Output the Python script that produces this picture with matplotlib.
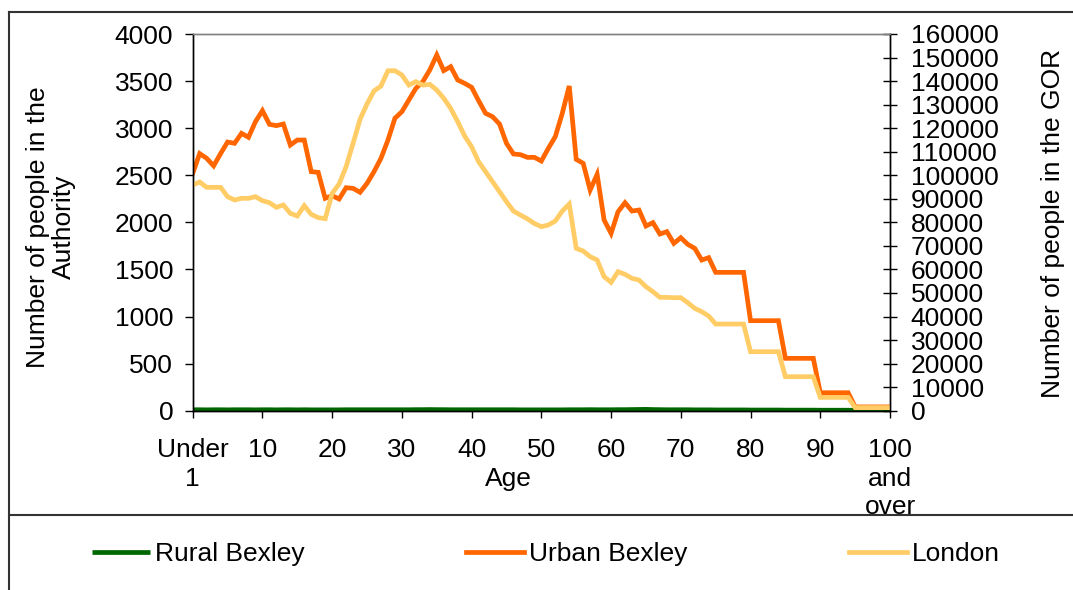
import numpy as np
import matplotlib
matplotlib.use("Agg")
import matplotlib.pyplot as plt
from matplotlib.lines import Line2D

plt.rcParams['font.family'] = ['Liberation Sans', 'DejaVu Sans']

# Population by single year of age (Under 1 ... 100 and over)
ages = list(range(101))

rural_bexley = [10, 10, 9, 10, 10, 9, 10, 10, 10, 9,
                10, 10, 9, 10, 10, 9, 10, 9, 9, 9,
                9, 9, 10, 10, 10, 10, 10, 10, 10, 10,
                10, 10, 11, 11, 12, 11, 11, 10, 10, 10,
                10, 10, 10, 10, 10, 10, 10, 9, 9, 9,
                9, 9, 9, 9, 10, 10, 10, 11, 10, 10,
                10, 11, 11, 12, 13, 14, 12, 11, 10, 10,
                10, 10, 9, 9, 9, 8, 8, 8, 8, 8,
                7, 7, 7, 7, 7, 6, 6, 6, 6, 6,
                5, 5, 5, 5, 5, 4, 4, 4, 4, 4, 4]

urban_bexley = [2520, 2730, 2680, 2600, 2730, 2853, 2839, 2945, 2903, 3069,
                3186, 3041, 3027, 3044, 2821, 2874, 2874, 2538, 2531, 2255,
                2283, 2248, 2368, 2361, 2319, 2414, 2538, 2680, 2874, 3105,
                3175, 3299, 3423, 3494, 3618, 3777, 3611, 3653, 3512, 3476,
                3434, 3292, 3158, 3122, 3044, 2839, 2726, 2719, 2690, 2690,
                2651, 2786, 2910, 3158, 3448, 2669, 2627, 2343, 2510, 2025,
                1883, 2113, 2209, 2120, 2131, 1961, 1997, 1876, 1901, 1777,
                1837, 1766, 1724, 1600, 1625, 1469, 1469, 1469, 1469, 1469,
                956, 956, 956, 956, 956, 556, 556, 556, 556, 556,
                191, 191, 191, 191, 191, 40, 40, 40, 40, 40, 40]

london = [95860, 97140, 94870, 94870, 94870, 90900, 89490, 90200, 90200, 90900,
          89200, 88360, 86380, 87370, 83830, 82700, 87080, 83400, 82000, 81560,
          92300, 96300, 103650, 113560, 123760, 130270, 135800, 137900, 144400, 144400,
          142600, 138300, 139760, 138300, 138600, 136200, 132700, 128400, 122770, 116680,
          112100, 105780, 101500, 97280, 93030, 88780, 84800, 83100, 81500, 79500,
          78160, 78870, 80570, 84800, 87790, 68960, 67830, 65420, 64000, 56920,
          54520, 59050, 57910, 56220, 55500, 52680, 50550, 48140, 48140, 48000,
          48000, 45880, 43470, 42050, 40210, 36800, 36800, 36800, 36800, 36800,
          25060, 25060, 25060, 25060, 25060, 14440, 14440, 14440, 14440, 14440,
          5660, 5660, 5660, 5660, 5660, 1300, 1300, 1300, 1300, 1300, 1300]

x_ticks = [0, 10, 20, 30, 40, 50, 60, 70, 80, 90, 100]
x_labels = ['Under\n1', '10', '20', '30', '40', '50', '60', '70', '80', '90',
            '100\nand\nover']

W, H = 1073, 590
fig = plt.figure(figsize=(W / 100, H / 100), dpi=100)

L, R, T, B = 192.7, 890.0, 34.0, 410.7
ax = fig.add_axes([L / W, 1 - B / H, (R - L) / W, (B - T) / H])
ax2 = ax.twinx()

fs = 19

l_rural, = ax.plot(ages, rural_bexley, color='#006600', lw=3.4,
                   solid_capstyle='butt', label='Rural Bexley')
l_urban, = ax.plot(ages, urban_bexley, color='#FF6600', lw=3.4,
                   solid_joinstyle='miter', label='Urban Bexley')
l_london, = ax2.plot(ages, london, color='#FFCC66', lw=3.4,
                     solid_joinstyle='miter', label='London')

ax.set_xlim(0, 100)
ax.set_ylim(0, 4000)
ax2.set_ylim(0, 160000)
ax.set_yticks(np.arange(0, 4001, 500))
ax2.set_yticks(np.arange(0, 160001, 10000))
ax.set_xticks(x_ticks)
ax.set_xticklabels(x_labels, fontsize=fs, linespacing=1.22)

ax.tick_params(axis='y', direction='out', length=6, width=1, labelsize=fs, pad=8)
ax.tick_params(axis='x', direction='out', length=5, width=1, labelsize=fs, pad=15)
ax2.tick_params(axis='y', direction='inout', length=10, width=1, labelsize=fs, pad=10)

for a in (ax, ax2):
    for s in ('left', 'bottom', 'right'):
        a.spines[s].set_color('black')
        a.spines[s].set_linewidth(1)
    a.spines['top'].set_color('#808080')
    a.spines['top'].set_linewidth(1)

ax.set_xlabel('Age', fontsize=fs)
ax.xaxis.set_label_coords((508 - L) / (R - L), (B - 467) / (B - T))
ax.set_ylabel('Number of people in the\nAuthority', fontsize=fs, linespacing=1.1)
ax.yaxis.set_label_coords((76 - L) / (R - L), (B - 227) / (B - T))
ax2.set_ylabel('Number of people in the GOR', fontsize=fs)
ax2.yaxis.set_label_coords((1041 - L) / (R - L), (B - 223) / (B - T))

# outer chart border (cropped Excel chart)
fig.add_artist(Line2D([9 / W, 9 / W], [0, 1 - 12 / H], transform=fig.transFigure,
                      color='#333333', lw=1.5))
fig.add_artist(Line2D([9 / W, 1], [1 - 12 / H, 1 - 12 / H], transform=fig.transFigure,
                      color='#333333', lw=1.5))
fig.add_artist(Line2D([9 / W, 1], [1 - 515 / H, 1 - 515 / H], transform=fig.transFigure,
                      color='#333333', lw=1.5))

fig.legend(handles=[l_rural, l_urban, l_london], loc='center left',
           bbox_to_anchor=(92 / W, 1 - 554 / H), ncol=3, frameon=False,
           fontsize=fs, handlelength=2.2, handletextpad=0.2, columnspacing=6.1,
           borderpad=0, borderaxespad=0)

fig.savefig('out.png', dpi=100)
